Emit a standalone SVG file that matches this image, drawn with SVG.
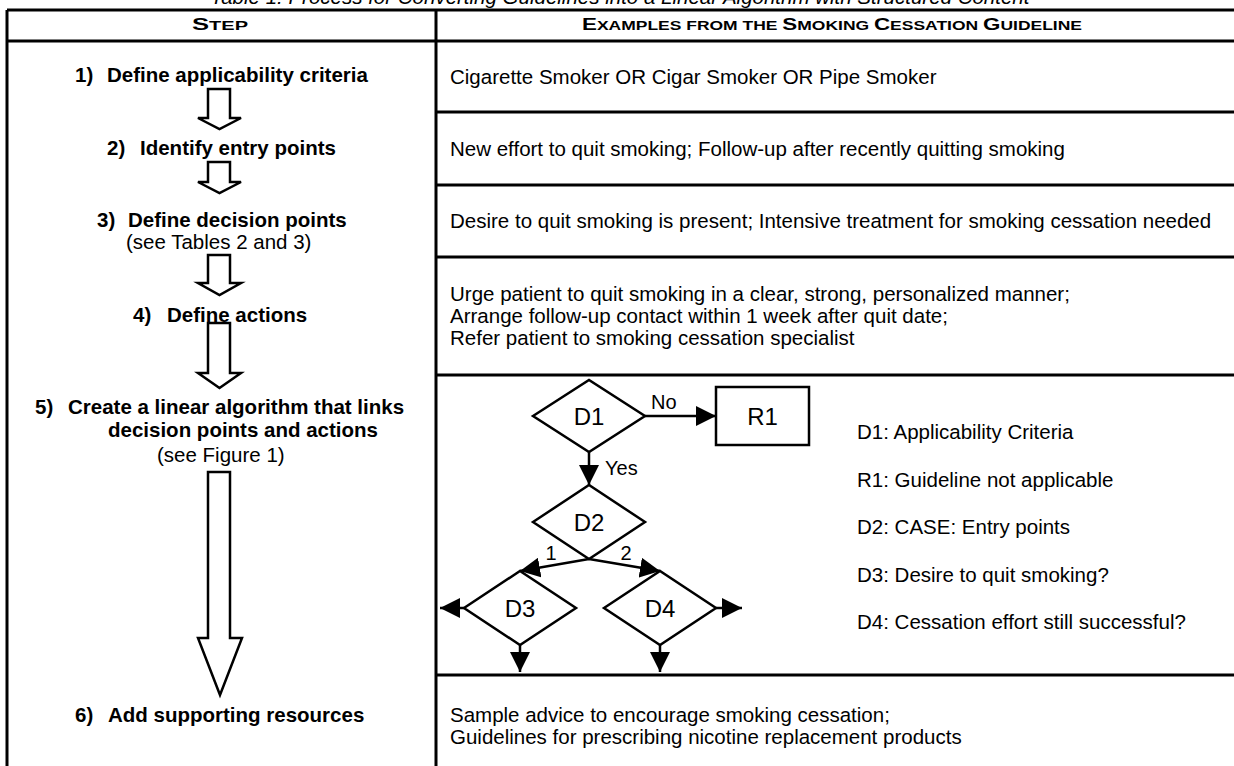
<svg xmlns="http://www.w3.org/2000/svg" width="1234" height="766" viewBox="0 0 1234 766">
<defs>
<style>
text { font-family: "Liberation Sans", Arial, Helvetica, sans-serif; fill: #000; }
.title { font-size: 20.5px; font-style: italic; }
.hd { font-weight: bold; }
.step { font-size: 20.5px; font-weight: bold; }
.note { font-size: 20.5px; }
.ex { font-size: 20.5px; }
.lbl { font-size: 24px; }
.small { font-size: 20px; }
.rule { stroke: #000; stroke-width: 3; fill: none; }
.blk { fill: #fff; stroke: #000; stroke-width: 2.5; stroke-linejoin: miter; }
.shape { fill: #fff; stroke: #000; stroke-width: 2.5; }
.conn { stroke: #000; stroke-width: 2.5; fill: none; marker-end: url(#ah); }
</style>
<marker id="ah" markerUnits="userSpaceOnUse" markerWidth="20" markerHeight="20" refX="20" refY="10" orient="auto" viewBox="0 0 20 20">
<path d="M0,0 L20,10 L0,20 z" fill="#000"/>
</marker>
</defs>
<rect x="0" y="0" width="1234" height="766" fill="#fff"/>

<text class="title" x="620" y="3.5" text-anchor="middle">Table 1: Process for Converting Guidelines into a Linear Algorithm with Structured Content</text>

<g id="table" class="rule">
<line x1="7" y1="10" x2="1234" y2="10"/>
<line x1="7" y1="41" x2="1234" y2="41"/>
<line x1="7" y1="10" x2="7" y2="766"/>
<line x1="436" y1="10" x2="436" y2="766"/>
<line x1="436" y1="112" x2="1234" y2="112"/>
<line x1="436" y1="185" x2="1234" y2="185"/>
<line x1="436" y1="257" x2="1234" y2="257"/>
<line x1="436" y1="375" x2="1234" y2="375"/>
<line x1="436" y1="675" x2="1234" y2="675"/>
</g>

<g id="header">
<text class="hd" x="220" y="30" text-anchor="middle" textLength="56" lengthAdjust="spacingAndGlyphs"><tspan font-size="16">S</tspan><tspan font-size="12.5">TEP</tspan></text>
<text class="hd" x="832" y="30" text-anchor="middle" textLength="500" lengthAdjust="spacingAndGlyphs"><tspan font-size="16">E</tspan><tspan font-size="12.5">XAMPLES FROM THE </tspan><tspan font-size="16">S</tspan><tspan font-size="12.5">MOKING </tspan><tspan font-size="16">C</tspan><tspan font-size="12.5">ESSATION </tspan><tspan font-size="16">G</tspan><tspan font-size="12.5">UIDELINE</tspan></text>
</g>

<g id="step1"><text class="step" y="82"><tspan x="75">1)</tspan><tspan x="107">Define applicability criteria</tspan></text></g>
<g id="step2"><text class="step" y="155"><tspan x="107">2)</tspan><tspan x="140">Identify entry points</tspan></text></g>
<g id="step3"><text class="step" y="227"><tspan x="97">3)</tspan><tspan x="128">Define decision points</tspan></text>
<text class="note" x="126" y="249">(see Tables 2 and 3)</text></g>
<g id="step4"><text class="step" y="322"><tspan x="133">4)</tspan><tspan x="167">Define actions</tspan></text></g>
<g id="step5"><text class="step" y="414"><tspan x="35">5)</tspan><tspan x="68">Create a linear algorithm that links</tspan></text>
<text class="step" x="108" y="437">decision points and actions</text>
<text class="note" x="157" y="462">(see Figure 1)</text></g>
<g id="step6"><text class="step" y="722"><tspan x="75">6)</tspan><tspan x="108">Add supporting resources</tspan></text></g>

<g id="step-arrows" class="blk">
<polygon points="208,89 230,89 230,118 241,118 219.5,129 198,118 208,118"/>
<polygon points="208,162 230,162 230,182 241,182 219.5,193 198,182 208,182"/>
<polygon points="208,255 230,255 230,283 241,283 219.5,295 198,283 208,283"/>
<polygon points="208,323 230,323 230,373 241,373 219.5,388 198,373 208,373"/>
<polygon points="208,472 230,472 230,638 242,638 220,695 198,638 208,638"/>
</g>

<g id="ex1"><text class="ex" x="450" y="84">Cigarette Smoker OR Cigar Smoker OR Pipe Smoker</text></g>
<g id="ex2"><text class="ex" x="450" y="156">New effort to quit smoking; Follow-up after recently quitting smoking</text></g>
<g id="ex3"><text class="ex" x="450" y="228">Desire to quit smoking is present; Intensive treatment for smoking cessation needed</text></g>
<g id="ex4"><text class="ex" x="450" y="301">Urge patient to quit smoking in a clear, strong, personalized manner;</text>
<text class="ex" x="450" y="323">Arrange follow-up contact within 1 week after quit date;</text>
<text class="ex" x="450" y="345">Refer patient to smoking cessation specialist</text></g>
<g id="ex6"><text class="ex" x="450" y="722">Sample advice to encourage smoking cessation;</text>
<text class="ex" x="450" y="744">Guidelines for prescribing nicotine replacement products</text></g>

<g id="connectors">
<line class="conn" x1="645" y1="416" x2="716" y2="416"/>
<line class="conn" x1="589" y1="452" x2="589" y2="485"/>
<line class="conn" x1="589" y1="559" x2="520" y2="571"/>
<line class="conn" x1="589" y1="559" x2="660" y2="571"/>
<line class="conn" x1="464" y1="608" x2="440" y2="608"/>
<line class="conn" x1="520" y1="645" x2="520" y2="672"/>
<line class="conn" x1="716" y1="608" x2="742" y2="608"/>
<line class="conn" x1="660" y1="645" x2="660" y2="672"/>
<text class="small" x="651" y="409">No</text>
<text class="small" x="605" y="475">Yes</text>
<text class="small" x="551" y="560" text-anchor="middle">1</text>
<text class="small" x="626" y="560" text-anchor="middle">2</text>
</g>

<g id="D1"><polygon class="shape" points="533,416 589,380 645,416 589,452"/><text class="lbl" x="589" y="424.5" text-anchor="middle">D1</text></g>
<g id="R1"><rect class="shape" x="716" y="387" width="93" height="58"/><text class="lbl" x="762.5" y="424.5" text-anchor="middle">R1</text></g>
<g id="D2"><polygon class="shape" points="533,522 589,485 645,522 589,559"/><text class="lbl" x="589" y="530.5" text-anchor="middle">D2</text></g>
<g id="D3"><polygon class="shape" points="464,608 520,571 576,608 520,645"/><text class="lbl" x="520" y="616.5" text-anchor="middle">D3</text></g>
<g id="D4"><polygon class="shape" points="604,608 660,571 716,608 660,645"/><text class="lbl" x="660" y="616.5" text-anchor="middle">D4</text></g>

<g id="legend">
<text class="ex" x="857" y="439">D1: Applicability Criteria</text>
<text class="ex" x="857" y="487">R1: Guideline not applicable</text>
<text class="ex" x="857" y="534">D2: CASE: Entry points</text>
<text class="ex" x="857" y="582">D3: Desire to quit smoking?</text>
<text class="ex" x="857" y="629">D4: Cessation effort still successful?</text>
</g>
</svg>
